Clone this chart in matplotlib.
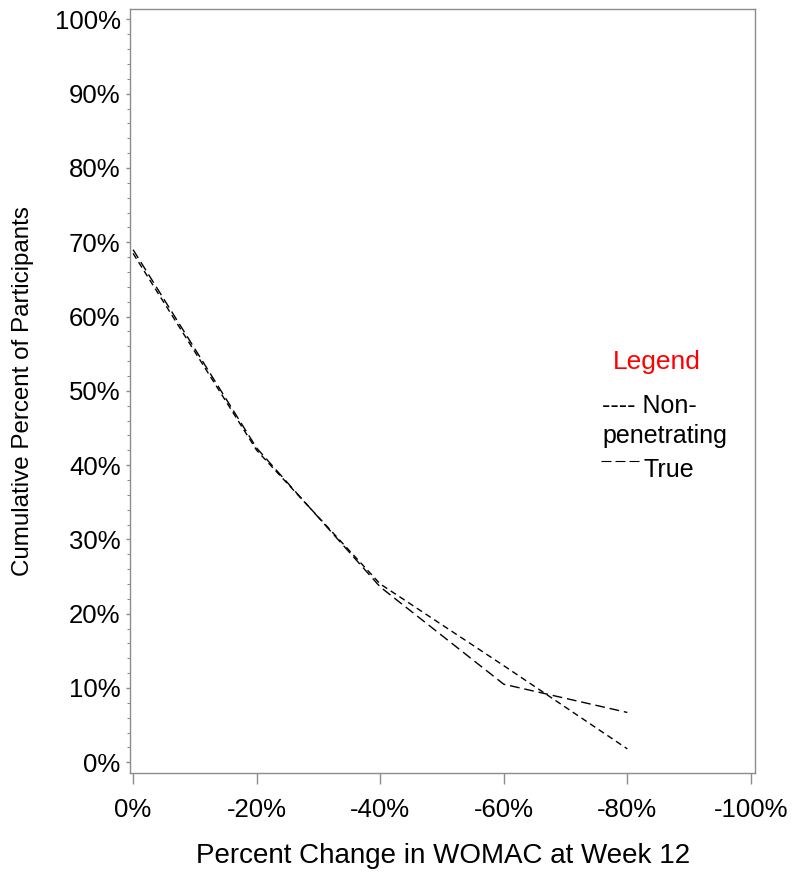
import matplotlib
matplotlib.use("Agg")
import matplotlib.pyplot as plt
from matplotlib.ticker import MultipleLocator, FuncFormatter

plt.rcParams["font.family"] = ["Liberation Sans", "DejaVu Sans"]

# data
pct_change = [0, -20, -40, -60, -80]
non_penetrating = [68.5, 42.0, 24.0, 13.0, 1.8]
true_needling = [69.0, 42.3, 23.6, 10.5, 6.7]

x_ticks = [0, -20, -40, -60, -80, -100]
y_ticks = [0, 10, 20, 30, 40, 50, 60, 70, 80, 90, 100]

fig = plt.figure(figsize=(8.0, 8.76), dpi=100)
ax = fig.add_axes([0.1625, 0.118, 0.7815, 0.8717])

ax.plot(pct_change, non_penetrating, color="black", linewidth=1.0,
        dashes=(4.5, 3.0))
ax.plot(pct_change, true_needling, color="black", linewidth=1.0,
        dashes=(7.0, 3.5))

ax.set_xlim(0.5, -100.7)
ax.set_ylim(-1.4, 101.4)
ax.set_xticks(x_ticks)
ax.set_yticks(y_ticks)
ax.yaxis.set_minor_locator(MultipleLocator(2))
pct = FuncFormatter(lambda v, _: f"{int(round(v))}%")
ax.xaxis.set_major_formatter(pct)
ax.yaxis.set_major_formatter(pct)

grey = "#8c8c8c"
for s in ax.spines.values():
    s.set_color(grey)
    s.set_linewidth(1.0)
ax.tick_params(axis="x", which="major", length=8, width=1.0, color=grey,
               labelsize=18.5, pad=10)
ax.tick_params(axis="y", which="major", length=2.8, width=1.0, color=grey,
               labelsize=18.5, pad=4)
ax.tick_params(axis="y", which="minor", length=2.2, width=0.8, color=grey)

ax.set_xlabel("Percent Change in WOMAC at Week 12", fontsize=20, labelpad=15.5)
ax.set_ylabel("Cumulative Percent of Participants", fontsize=17.4, labelpad=15)

# hand-built legend, as in the original
ax.text(-84.7, 53.0, "Legend", color="red", fontsize=19, ha="center", va="baseline")
ax.text(-75.9, 47.0, "---- Non-", fontsize=18, ha="left", va="baseline")
ax.text(-75.9, 43.0, "penetrating", fontsize=18, ha="left", va="baseline")
ax.plot([-75.8, -82.1], [40.6, 40.6], color="black", linewidth=0.8,
        dashes=(9, 3.6))
ax.text(-82.6, 38.4, "True", fontsize=18, ha="left", va="baseline")

fig.savefig("out.png", dpi=100)
